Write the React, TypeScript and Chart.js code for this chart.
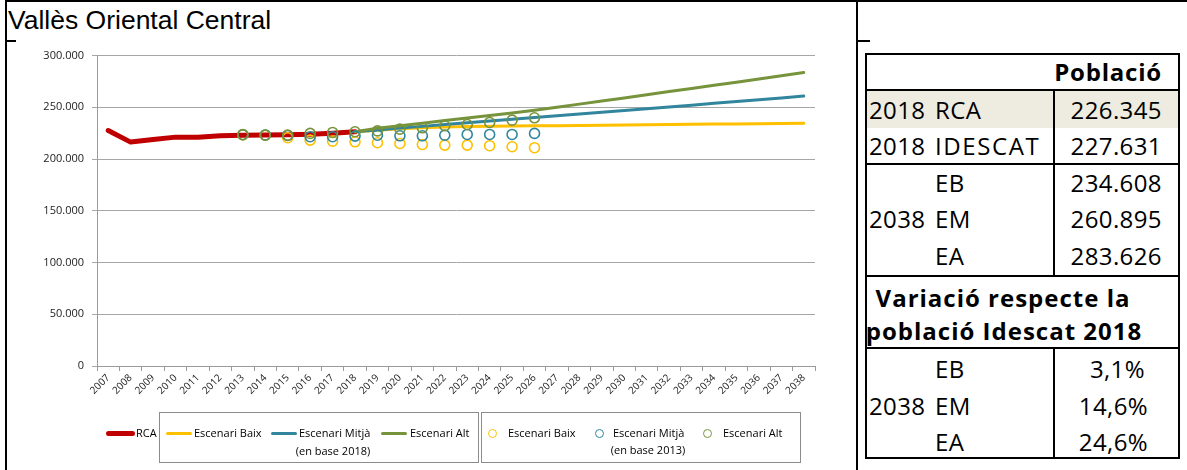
import React, { useEffect, useRef } from "react";
import { Chart, registerables } from "chart.js";

Chart.register(...registerables);

const YEARS = [
  "2007", "2008", "2009", "2010", "2011", "2012", "2013", "2014", "2015", "2016",
  "2017", "2018", "2019", "2020", "2021", "2022", "2023", "2024", "2025", "2026",
  "2027", "2028", "2029", "2030", "2031", "2032", "2033", "2034", "2035", "2036",
  "2037", "2038",
];

const Y_TICKS = [0, 50000, 100000, 150000, 200000, 250000, 300000];

// RCA register 2007-2018
const RCA = [
  227600, 216400, 219000, 221200, 221000, 222500, 223100, 223300, 223600, 224000,
  225000, 226345,
];

// Projections (base 2018), 2018-2038
const BAIX_2018 = [
  226345, 227900, 229200, 230300, 231000, 231400, 231700, 231900, 232100, 232300,
  232500, 232700, 233000, 233200, 233400, 233600, 233800, 234000, 234200, 234400,
  234608,
];
const MITJA_2018 = [
  226345, 228100, 229900, 231600, 233300, 235000, 236700, 238400, 240100, 241800,
  243500, 245200, 247000, 248700, 250400, 252100, 253900, 255600, 257400, 259100,
  260895,
];
const ALT_2018 = [
  226345, 229800, 232200, 234700, 237200, 239600, 242100, 244600, 247200, 250100,
  253100, 256100, 259100, 262100, 265200, 268200, 271300, 274300, 277400, 280500,
  283626,
];

// Projections (base 2013), 2013-2026
const BAIX_2013 = [
  223300, 223000, 220600, 218300, 217300, 216700, 215800, 215100, 214100, 213500,
  213500, 212900, 211900, 211000,
];
const MITJA_2013 = [
  223500, 223300, 222800, 221600, 221600, 222200, 223000, 222500, 222500, 223100,
  223800, 223800, 223800, 224800,
];
const ALT_2013 = [
  223800, 223100, 223100, 224800, 225700, 226400, 227200, 228900, 230200, 232200,
  233400, 235400, 237600, 239900,
];

const TABLE_POP = [
  ["2018", "RCA", "226.345"],
  ["2018", "IDESCAT", "227.631"],
];
const TABLE_2038_LABELS = ["EB", "EM", "EA"];
const TABLE_2038_POP = ["234.608", "260.895", "283.626"];
const TABLE_2038_VAR = ["3,1%", "14,6%", "24,6%"];

const RED = "#C00000";
const YELLOW = "#FFC000";
const BLUE = "#31859C";
const GREEN = "#77933C";

function place(arr: number[], startYear: string): (number | null)[] {
  const start = YEARS.indexOf(startYear);
  return YEARS.map((_, i) =>
    i >= start && i - start < arr.length ? arr[i - start] : null
  );
}

function fmt(v: number): string {
  return String(v).replace(/\B(?=(\d{3})+(?!\d))/g, ".");
}

const TXT = "'Open Sans', 'Noto Sans', sans-serif";

function T(props: {
  x: number;
  y: number;
  align?: "left" | "right" | "center";
  size: number;
  bold?: boolean;
  family?: string;
  ls?: number;
  children: React.ReactNode;
}) {
  const h = props.size * 1.4;
  const style: React.CSSProperties = {
    position: "absolute",
    top: props.y - h / 2,
    lineHeight: h + "px",
    height: h,
    fontSize: props.size,
    fontFamily: props.family || TXT,
    fontWeight: props.bold ? 700 : 400,
    whiteSpace: "nowrap",
    color: "#000",
    letterSpacing: props.ls ? props.ls + "px" : undefined,
  };
  if (props.align === "right") {
    style.right = 1187 - props.x;
  } else if (props.align === "center") {
    style.left = props.x;
    style.transform = "translateX(-50%)";
  } else {
    style.left = props.x;
  }
  return <div style={style}>{props.children}</div>;
}

function Box(props: { l: number; t: number; w: number; h: number; bg?: string; border?: string }) {
  return (
    <div
      style={{
        position: "absolute",
        left: props.l,
        top: props.t,
        width: props.w,
        height: props.h,
        background: props.bg,
        border: props.border,
        boxSizing: "border-box",
      }}
    />
  );
}

function ChartCanvas() {
  const ref = useRef<HTMLCanvasElement>(null);
  useEffect(() => {
    if (!ref.current) return;
    const circle = (label: string, data: number[], color: string, order: number) => ({
      label,
      data: place(data, "2013"),
      showLine: false,
      borderColor: color,
      backgroundColor: "rgba(0,0,0,0)",
      pointRadius: 5,
      pointBorderWidth: 1.6,
      pointStyle: "circle",
      order,
    });
    const line = (label: string, data: number[], color: string, width: number, start: string, order: number) => ({
      label,
      data: place(data, start),
      borderColor: color,
      backgroundColor: color,
      borderWidth: width,
      pointRadius: 0,
      tension: 0,
      borderCapStyle: "round",
      borderJoinStyle: "round",
      order,
    });
    const chart = new Chart(ref.current, {
      type: "line",
      data: {
        labels: YEARS,
        datasets: [
          line("RCA", RCA, RED, 5, "2007", 7),
          line("Escenari Baix (en base 2018)", BAIX_2018, YELLOW, 3, "2018", 6),
          line("Escenari Mitjà (en base 2018)", MITJA_2018, BLUE, 3, "2018", 5),
          line("Escenari Alt (en base 2018)", ALT_2018, GREEN, 3, "2018", 4),
          circle("Escenari Baix (en base 2013)", BAIX_2013, YELLOW, 3),
          circle("Escenari Mitjà (en base 2013)", MITJA_2013, BLUE, 2),
          circle("Escenari Alt (en base 2013)", ALT_2013, GREEN, 1),
        ] as any,
      },
      options: {
        responsive: false,
        animation: false,
        layout: { padding: { left: 0, right: 42, top: 14, bottom: 0 } },
        plugins: { legend: { display: false }, tooltip: { enabled: false } },
        scales: {
          x: {
            offset: true,
            grid: {
              offset: true,
              drawOnChartArea: false,
              drawTicks: true,
              tickLength: 5,
              color: "#9a9a9a",
            },
            border: { color: "#9a9a9a" },
            ticks: {
              autoSkip: false,
              minRotation: 45,
              maxRotation: 45,
              padding: 1,
              color: "#222",
              font: { family: "'Open Sans'", size: 10 },
            },
            afterFit: (s: any) => {
              s.height = 99;
            },
          },
          y: {
            min: 0,
            max: 300000,
            afterBuildTicks: (s: any) => {
              s.ticks = Y_TICKS.map((v) => ({ value: v }));
            },
            ticks: {
              padding: 8,
              color: "#222",
              font: { family: "'Open Sans'", size: 11 },
              callback: (v: any) => fmt(Number(v)),
            },
            grid: { color: "#a6a6a6", tickLength: 5 },
            border: { color: "#9a9a9a" },
            afterFit: (s: any) => {
              s.width = 82;
            },
          },
        },
      } as any,
    });
    return () => chart.destroy();
  }, []);
  return (
    <canvas
      ref={ref}
      width={842}
      height={424}
      style={{ position: "absolute", left: 15, top: 41, width: 842, height: 424 }}
    />
  );
}

function LineSwatch(props: { x1: number; x2: number; y: number; color: string; w: number }) {
  return (
    <div
      style={{
        position: "absolute",
        left: props.x1,
        top: props.y - props.w / 2,
        width: props.x2 - props.x1,
        height: props.w,
        background: props.color,
        borderRadius: props.w / 2,
      }}
    />
  );
}

function CircleSwatch(props: { x: number; y: number; color: string }) {
  const r = 4.5;
  return (
    <div
      style={{
        position: "absolute",
        left: props.x - r,
        top: props.y - r,
        width: 2 * r,
        height: 2 * r,
        border: "1.6px solid " + props.color,
        borderRadius: "50%",
        boxSizing: "border-box",
      }}
    />
  );
}

export default function App() {
  const LEG = 11;
  const ly = 433;
  const ly2 = 451;
  const tf = 24;
  const tls = 0.4;
  const rowsY2038 = [183, 219, 256];
  const rowsVar = [369, 406, 442];
  return (
    <div
      style={{
        position: "absolute",
        left: 0,
        top: 0,
        width: 1187,
        height: 470,
        background: "#fff",
        overflow: "hidden",
      }}
    >
      {/* outer frame */}
      <Box l={5} t={0} w={1182} h={2} bg="#000" />
      <Box l={5} t={0} w={2} h={470} bg="#000" />
      <Box l={856} t={0} w={2} h={470} bg="#000" />
      <Box l={5} t={40} w={11} h={2} bg="#000" />
      <Box l={856} t={40} w={14} h={2} bg="#000" />

      <T x={8} y={21} size={26.5} family="'Liberation Sans', Arial, sans-serif">
        Vallès Oriental Central
      </T>

      <ChartCanvas />

      {/* legend */}
      <LineSwatch x1={106} x2={135} y={ly} color={RED} w={5} />
      <T x={136} y={ly} size={LEG}>RCA</T>
      <Box l={159} t={412} w={320} h={51} border="1px solid #8c8c8c" />
      <LineSwatch x1={166} x2={192} y={ly} color={YELLOW} w={3} />
      <T x={194} y={ly} size={LEG}>Escenari Baix</T>
      <LineSwatch x1={271} x2={297} y={ly} color={BLUE} w={3} />
      <T x={299} y={ly} size={LEG}>Escenari Mitjà</T>
      <T x={333} y={ly2} size={LEG} align="center">(en base 2018)</T>
      <LineSwatch x1={381} x2={407} y={ly} color={GREEN} w={3} />
      <T x={410} y={ly} size={LEG}>Escenari Alt</T>

      <Box l={481} t={412} w={320} h={51} border="1px solid #8c8c8c" />
      <CircleSwatch x={492} y={ly} color={YELLOW} />
      <T x={508} y={ly} size={LEG}>Escenari Baix</T>
      <CircleSwatch x={599} y={ly} color={BLUE} />
      <T x={613} y={ly} size={LEG}>Escenari Mitjà</T>
      <T x={648} y={ly2 - 1} size={LEG} align="center">(en base 2013)</T>
      <CircleSwatch x={707} y={ly} color={GREEN} />
      <T x={723} y={ly} size={LEG}>Escenari Alt</T>

      {/* table */}
      <Box l={865} t={90} w={314} h={38} bg="#EEECE1" />
      <Box l={865} t={53} w={315} h={406} border="2px solid #000" />
      <Box l={865} t={89} w={315} h={2} bg="#000" />
      <Box l={865} t={163} w={315} h={2} bg="#000" />
      <Box l={865} t={275} w={315} h={2} bg="#000" />
      <Box l={865} t={347} w={315} h={2} bg="#000" />
      <Box l={1053} t={89} w={2} h={188} bg="#000" />
      <Box l={1053} t={347} w={2} h={111} bg="#000" />

      <T x={1162} y={72} size={tf} ls={0.8} bold align="right">Població</T>
      {TABLE_POP.map((r, i) => {
        const y = i === 0 ? 110 : 146;
        return (
          <React.Fragment key={i}>
            <T x={869} y={y} size={tf} ls={tls}>{r[0]}</T>
            <T x={935} y={y} size={tf} ls={i === 1 ? 1.6 : tls}>{r[1]}</T>
            <T x={1162} y={y} size={tf} ls={tls} align="right">{r[2]}</T>
          </React.Fragment>
        );
      })}
      <T x={869} y={rowsY2038[1]} size={tf} ls={tls}>2038</T>
      {TABLE_2038_LABELS.map((l, i) => (
        <React.Fragment key={"p" + i}>
          <T x={935} y={rowsY2038[i]} size={tf} ls={tls}>{l}</T>
          <T x={1162} y={rowsY2038[i]} size={tf} ls={tls} align="right">{TABLE_2038_POP[i]}</T>
        </React.Fragment>
      ))}
      <T x={1003} y={298} size={tf} ls={1} bold align="center">Variació respecte la</T>
      <T x={1004} y={331} size={tf} ls={1} bold align="center">població Idescat 2018</T>
      <T x={869} y={rowsVar[1]} size={tf} ls={tls}>2038</T>
      {TABLE_2038_LABELS.map((l, i) => (
        <React.Fragment key={"v" + i}>
          <T x={935} y={rowsVar[i]} size={tf} ls={tls}>{l}</T>
          <T x={i === 0 ? 1145 : 1148} y={rowsVar[i]} size={tf} ls={tls} align="right">{TABLE_2038_VAR[i]}</T>
        </React.Fragment>
      ))}
    </div>
  );
}
